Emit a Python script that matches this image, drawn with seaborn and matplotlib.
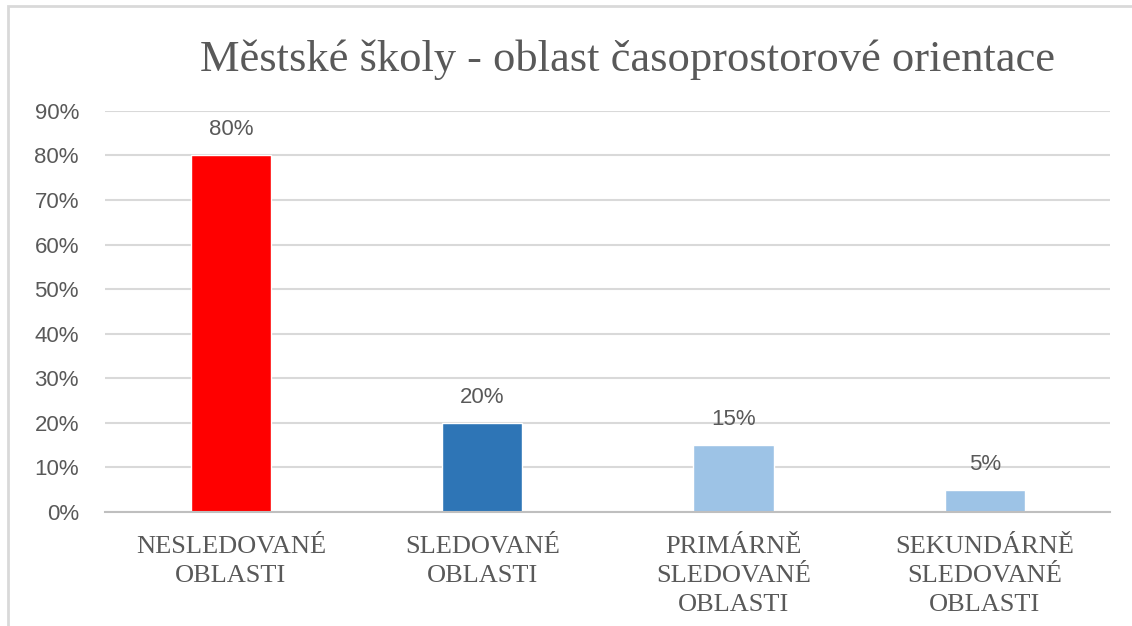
import matplotlib
matplotlib.use("Agg")
import matplotlib.pyplot as plt
import seaborn as sns
import pandas as pd
from matplotlib.patches import Rectangle

# chart data
categories = ["NESLEDOVANÉ\nOBLASTI", "SLEDOVANÉ\nOBLASTI",
              "PRIMÁRNĚ\nSLEDOVANÉ\nOBLASTI", "SEKUNDÁRNĚ\nSLEDOVANÉ\nOBLASTI"]
values = [80, 20, 15, 5]
bar_colors = ["#FF0000", "#2E75B6", "#9DC3E6", "#9DC3E6"]
y_ticks = [0, 10, 20, 30, 40, 50, 60, 70, 80, 90]

df = pd.DataFrame({"Oblast": categories, "Podil": values})

sns.set_style("white")
plt.rcParams["font.family"] = ["Liberation Sans", "DejaVu Sans"]

fig = plt.figure(figsize=(11.32, 6.26), dpi=100)
ax = fig.add_axes([0.093, 0.182, 0.888, 0.641])

sns.barplot(data=df, x="Oblast", y="Podil", hue="Oblast", palette=bar_colors,
            width=0.32, legend=False, ax=ax, saturation=1)

ax.set_ylim(0, 90)
ax.set_xlim(-0.5, 3.5)
ax.set_yticks(y_ticks)
ax.set_yticklabels([f"{t}%" for t in y_ticks], fontsize=16, color="#595959")
ax.set_xticks(range(len(categories)))
ax.set_xticklabels(categories, fontsize=19, color="#595959",
                   family="Liberation Serif", linespacing=1.42)
ax.tick_params(axis="x", length=0, pad=17)
ax.tick_params(axis="y", length=0, pad=19)
ax.set_xlabel("")
ax.set_ylabel("")

ax.yaxis.grid(True, color="#D9D9D9", linewidth=1.5)
ax.set_axisbelow(True)
for s in ["top", "right", "left"]:
    ax.spines[s].set_visible(False)
ax.spines["bottom"].set_color("#BFBFBF")
ax.spines["bottom"].set_linewidth(1.5)

for i, v in enumerate(values):
    ax.text(i, v + 3.4, f"{v}%", ha="center", va="bottom", fontsize=16, color="#595959")

fig.text(0.554, 0.905, "Městské školy - oblast časoprostorové orientace",
         ha="center", va="center", fontsize=32, color="#595959",
         family="Liberation Serif")

# thin frame around the chart like the original
fig.patches.append(Rectangle((0.007, -0.02), 1.1, 1.01, transform=fig.transFigure,
                             fill=False, edgecolor="#D9D9D9", linewidth=2))

fig.savefig("out.png", dpi=100, facecolor="white")
